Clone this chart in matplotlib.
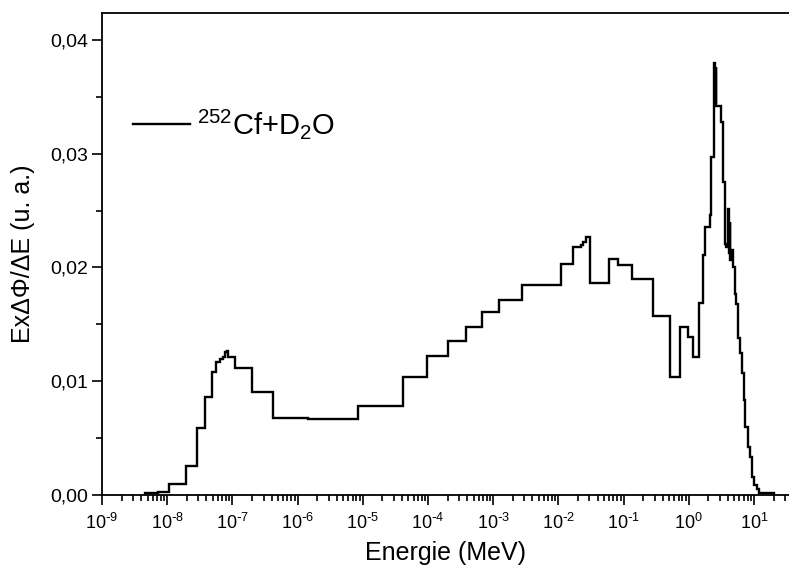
import numpy as np
import matplotlib.pyplot as plt
from matplotlib.ticker import LogLocator, MultipleLocator, FuncFormatter, NullFormatter

# Bin edges of the spectrum, given as log10(E / MeV).
log_edges = [-8.347, -8.147, -7.974, -7.717, -7.538, -7.426, -7.310, -7.246,
             -7.195, -7.144, -7.114, -7.083, -7.061, -6.954, -6.699, -6.376,
             -5.839, -5.071, -4.379, -4.011, -3.688, -3.412, -3.166, -2.914,
             -2.556, -1.962, -1.777, -1.654, -1.619, -1.578, -1.507, -1.230,
             -1.092, -0.877, -0.548, -0.290, -0.140, -0.014, 0.071, 0.155,
             0.217, 0.255, 0.321, 0.343, 0.382, 0.398, 0.412, 0.424,
             0.496, 0.521, 0.551, 0.578, 0.598, 0.613, 0.627, 0.639,
             0.657, 0.681, 0.716, 0.731, 0.751, 0.793, 0.819, 0.843,
             0.869, 0.905, 0.946, 0.972, 1.008, 1.049, 1.084, 1.304]

# E x dPhi/dE per bin (arbitrary units)
flux = [0.00015, 0.00024, 0.00094, 0.00255, 0.0059, 0.00864, 0.01079, 0.01167,
        0.01193, 0.01216, 0.01257, 0.01269, 0.01216, 0.0112, 0.00903, 0.00674,
        0.00665, 0.00785, 0.01035, 0.01222, 0.01352, 0.0148, 0.01607, 0.01715,
        0.01847, 0.02034, 0.02181, 0.02196, 0.02222, 0.02266, 0.01861, 0.02073,
        0.02023, 0.01895, 0.01575, 0.01038, 0.01473, 0.01392, 0.0121, 0.01692,
        0.0211, 0.0236, 0.0246, 0.0297, 0.0380, 0.0345, 0.0376, 0.0342,
        0.0328, 0.0275, 0.0221, 0.0218, 0.0251, 0.0213, 0.0240, 0.0207,
        0.0215, 0.0200, 0.0177, 0.0168, 0.0138, 0.01246, 0.0107, 0.00835,
        0.0060, 0.00425, 0.00337, 0.00161, 0.00088, 0.0005, 0.00015]

label = r'$^{252}$Cf+D$_2$O'

plt.rcParams['font.family'] = ['Liberation Sans', 'DejaVu Sans']
plt.rcParams['mathtext.default'] = 'regular'
plt.rcParams['axes.unicode_minus'] = False


def decade_label(v, pos):
    p = int(round(np.log10(v)))
    if p < 0:
        return r'$10^{\text{-}%d}$' % -p
    return r'$10^{%d}$' % p


fig = plt.figure(figsize=(7.89, 5.79), dpi=100)
ax = fig.add_axes([0.1293, 0.1451, 0.8707, 0.8324])

edges = 10.0 ** np.array(log_edges)
ax.stairs(flux, edges, color='black', linewidth=1.7, baseline=0, label=label)

ax.set_xscale('log')
ax.set_xlim(1e-9, 10 ** 1.538)
ax.set_ylim(0, 0.04237)

ax.xaxis.set_major_locator(LogLocator(base=10, numticks=20))
ax.xaxis.set_minor_locator(LogLocator(base=10, subs=np.arange(2, 10), numticks=20))
ax.xaxis.set_minor_formatter(NullFormatter())
ax.xaxis.set_major_formatter(FuncFormatter(decade_label))

ax.yaxis.set_major_locator(MultipleLocator(0.01))
ax.yaxis.set_minor_locator(MultipleLocator(0.005))
ax.yaxis.set_major_formatter(FuncFormatter(lambda v, pos: f'{v:.2f}'.replace('.', ',')))

ax.tick_params(which='major', direction='out', length=7, width=1.2)
ax.tick_params(which='minor', direction='out', length=4, width=1.2)
ax.tick_params(axis='y', labelsize=14, pad=3)
ax.tick_params(axis='x', labelsize=13, pad=6)
ax.tick_params(top=False, right=False, which='both')

for side in ['left', 'bottom', 'top']:
    ax.spines[side].set_linewidth(1.3)
ax.spines['right'].set_visible(False)

ax.set_xlabel('Energie (MeV)', fontsize=18, labelpad=6)
ax.set_ylabel('ExΔΦ/ΔE (u. a.)', fontsize=18, labelpad=11)

ax.legend(loc='center left', bbox_to_anchor=(0.045, 0.77), frameon=False,
          fontsize=21, handlelength=1.95, handletextpad=0.25,
          borderpad=0, borderaxespad=0)

fig.savefig('out.png', dpi=100)
